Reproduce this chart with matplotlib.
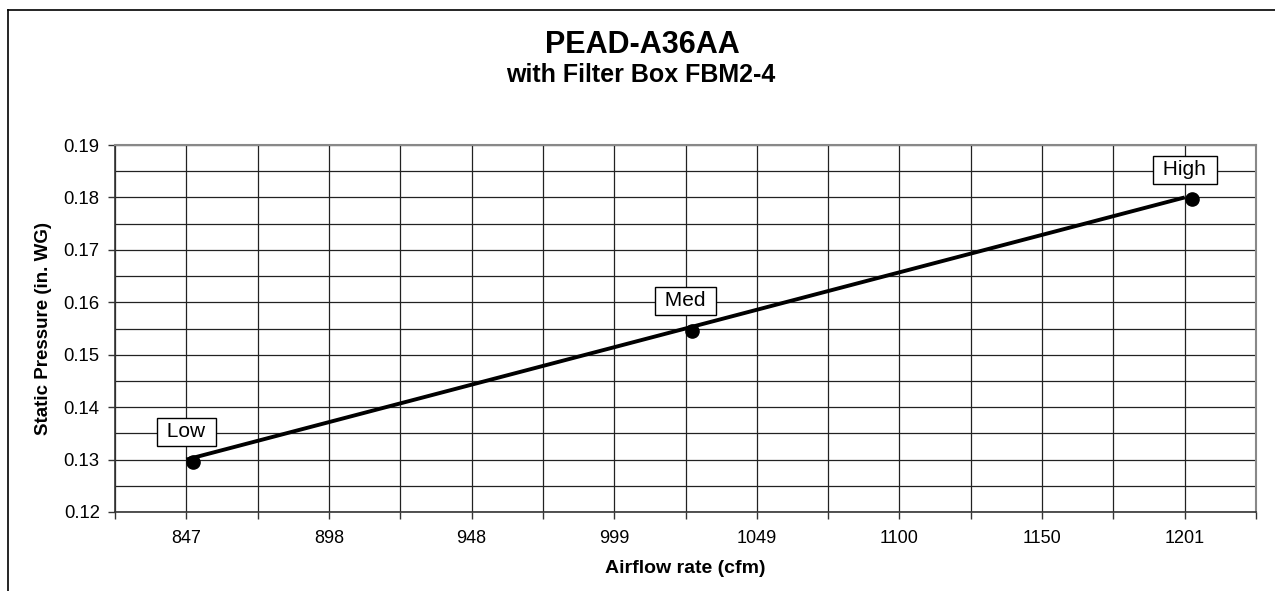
import matplotlib.pyplot as plt
import matplotlib.transforms as mtransforms
from matplotlib.lines import Line2D
import numpy as np

plt.rcParams['font.family'] = ['Liberation Sans', 'DejaVu Sans']

# data
airflow = [847, 1024, 1201]
pressure = [0.13, 0.155, 0.18]
speeds = ["Low", "Med", "High"]
xtick_labels = ["847", "898", "948", "999", "1049", "1100", "1150", "1201"]

fig = plt.figure(figsize=(12.75, 5.91), dpi=100)
ax = fig.add_axes([115 / 1275, 1 - 512 / 591, (1256 - 115) / 1275, (512 - 145) / 591])

step = (airflow[-1] - airflow[0]) / 7
xmin = airflow[0] - step / 2
xmax = airflow[-1] + step / 2
ax.set_xlim(xmin, xmax)
ax.set_ylim(0.12, 0.19)

major_x = airflow[0] + step * np.arange(len(xtick_labels))
ax.set_xticks(major_x)
ax.set_xticklabels(xtick_labels)
ax.set_xticks(np.arange(xmin, xmax + 1, step / 2), minor=True)
ax.set_yticks(np.arange(0.12, 0.1901, 0.01))
ax.set_yticks(np.arange(0.12, 0.1901, 0.005), minor=True)
ax.yaxis.set_major_formatter(plt.FuncFormatter(lambda v, p: f"{v:.2f}"))

ax.grid(True, which="both", color="#222222", linewidth=0.9)
ax.set_axisbelow(True)
ax.tick_params(axis="x", which="both", length=5, width=1, color="#333333", labelsize=13, pad=8)
ax.tick_params(axis="y", which="major", length=5, width=1, color="#333333", labelsize=13.3, pad=6)
ax.tick_params(axis="y", which="minor", length=0)

for side in ["top", "right"]:
    ax.spines[side].set_color("#888888")
    ax.spines[side].set_linewidth(1.5)
for side in ["left", "bottom"]:
    ax.spines[side].set_color("#333333")
    ax.spines[side].set_linewidth(1.2)

ax.plot(airflow, pressure, color="black", linewidth=2.8, solid_capstyle="butt", zorder=3)
# markers are drawn a little right of the line points in the original
shifted = mtransforms.offset_copy(ax.transData, fig=fig, x=7, y=-2, units="dots")
ax.plot(airflow, pressure, "o", color="black", markersize=9.5, transform=shifted, zorder=4)

for x, y, name in zip(airflow, pressure, speeds):
    ax.annotate(" " + name + " ", (x, y), xytext=(0, 20), textcoords="offset points",
                ha="center", va="center", fontsize=15,
                bbox=dict(boxstyle="square,pad=0.22", facecolor="white", edgecolor="black", linewidth=1),
                zorder=5)

ax.set_xlabel("Airflow rate (cfm)", fontsize=14, fontweight="bold", labelpad=9)
ax.set_ylabel("Static Pressure (in. WG)", fontsize=13.5, fontweight="bold", labelpad=8)

fig.text(642 / 1275, 1 - 45 / 591, "PEAD-A36AA", ha="center", va="center", fontsize=22, fontweight="bold")
fig.text(641 / 1275, 1 - 75 / 591, "with Filter Box FBM2-4", ha="center", va="center", fontsize=18, fontweight="bold")

# chart area border (cropped on right and bottom)
fig.add_artist(Line2D([8 / 1275, 1], [1 - 10 / 591, 1 - 10 / 591], color="black", linewidth=1.2, transform=fig.transFigure))
fig.add_artist(Line2D([8 / 1275, 8 / 1275], [0, 1 - 10 / 591], color="black", linewidth=1.2, transform=fig.transFigure))

fig.savefig("out.png", dpi=100)
